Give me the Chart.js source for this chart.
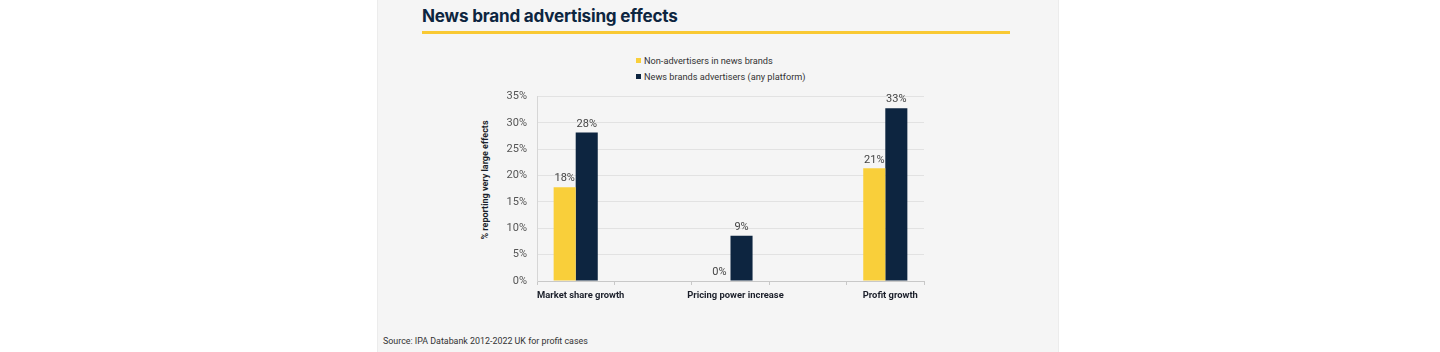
<!DOCTYPE html>
<html>
<head>
<meta charset="utf-8">
<script src="https://cdn.jsdelivr.net/npm/chart.js@4"></script>
<style>
  html, body { margin: 0; padding: 0; background: #fff; }
  body { width: 1440px; height: 352px; position: relative; overflow: hidden; font-family: Roboto, "Noto Sans", sans-serif; }
  .panel { position: absolute; left: 377px; top: 0; width: 680px; height: 352px; background: #f5f5f5; border-left: 1px solid #ececec; border-right: 1px solid #ececec; }
  .title { position: absolute; left: 422px; top: 5px; font-family: Inter, sans-serif; font-size: 17.1px; font-weight: 700; color: #0d2540; letter-spacing: -0.2px; white-space: nowrap; }
  .rule { position: absolute; left: 422px; top: 31px; width: 588px; height: 3px; background: #f9c933; }
  .legend { position: absolute; left: 636px; top: 53px; font-size: 9.2px; color: #333; }
  .legend div { height: 16px; line-height: 15px; white-space: nowrap; }
  .legend span { display: inline-block; width: 5px; height: 5px; margin-right: 3px; vertical-align: 1px; }
  .source { position: absolute; left: 383px; top: 336px; font-size: 8.9px; color: #333; white-space: nowrap; }
  .ytitle { position: absolute; left: 485px; top: 180px; transform: translate(-50%, -50%) rotate(-90deg); font-size: 9px; font-weight: 700; color: #1b1f2a; white-space: nowrap; }
  .wrap { position: absolute; left: 476px; top: 80px; width: 454px; height: 230px; }
</style>
</head>
<body>
<div class="panel"></div>
<div class="title">News brand advertising effects</div>
<div class="rule"></div>
<div class="legend">
  <div><span style="background:#f9cf3a"></span>Non-advertisers in news brands</div>
  <div><span style="background:#0d2540"></span>News brands advertisers (any platform)</div>
</div>
<div class="ytitle">% reporting very large effects</div>
<div class="wrap"><canvas id="barChart"></canvas></div>
<div class="source">Source: IPA Databank 2012-2022 UK for profit cases</div>

<script>
const categories = ['Market share growth', '', 'Pricing power increase', '', 'Profit growth'];
const nonAdvertisers = [17.8, null, 0, null, 21.4];
const newsAdvertisers = [28.2, null, 8.6, null, 32.8];
const yTicks = [0, 5, 10, 15, 20, 25, 30, 35];

// value labels above each bar
const valueLabels = {
  id: 'valueLabels',
  afterDatasetsDraw(chart) {
    const ctx = chart.ctx;
    ctx.save();
    ctx.font = '400 11px Roboto, sans-serif';
    ctx.fillStyle = '#444';
    ctx.textAlign = 'center';
    ctx.textBaseline = 'bottom';
    chart.data.datasets.forEach((ds, i) => {
      chart.getDatasetMeta(i).data.forEach((bar, j) => {
        const v = ds.data[j];
        if (v === null) return;
        ctx.fillText(Math.round(v) + '%', bar.x, bar.y - 3);
      });
    });
    ctx.restore();
  }
};

const ctx = document.getElementById('barChart').getContext('2d');
new Chart(ctx, {
  type: 'bar',
  data: {
    labels: categories,
    datasets: [{
      label: 'Non-advertisers in news brands',
      data: nonAdvertisers,
      backgroundColor: '#f9cf3a'
    }, {
      label: 'News brands advertisers (any platform)',
      data: newsAdvertisers,
      backgroundColor: '#0d2540'
    }]
  },
  options: {
    responsive: true,
    maintainAspectRatio: false,
    animation: false,
    layout: { padding: { top: 5, right: 6, left: 0, bottom: 0 } },
    datasets: { bar: { categoryPercentage: 0.57, barPercentage: 1 } },
    plugins: { legend: { display: false }, tooltip: { enabled: false } },
    scales: {
      x: {
        grid: { drawOnChartArea: false, color: '#c8c8c8', tickLength: 4 },
        border: { color: '#c8c8c8' },
        ticks: {
          padding: 5,
          labelOffset: 5,
          color: '#1b1f2a',
          font: { family: 'Roboto', size: 9.4, weight: '700' },
          autoSkip: false,
          maxRotation: 0
        },
        afterFit(scale) { scale.height = 29; }
      },
      y: {
        min: 0,
        max: 35,
        afterBuildTicks(scale) { scale.ticks = yTicks.map(v => ({ value: v })); },
        grid: { color: '#e2e2e2', drawTicks: false },
        border: { color: '#d6d6d6' },
        ticks: {
          padding: 10,
          color: '#555',
          font: { family: 'Roboto', size: 11, weight: '400' },
          callback: v => v + '%'
        },
        afterFit(scale) { scale.width = 61; }
      }
    }
  },
  plugins: [valueLabels]
});
</script>
</body>
</html>
